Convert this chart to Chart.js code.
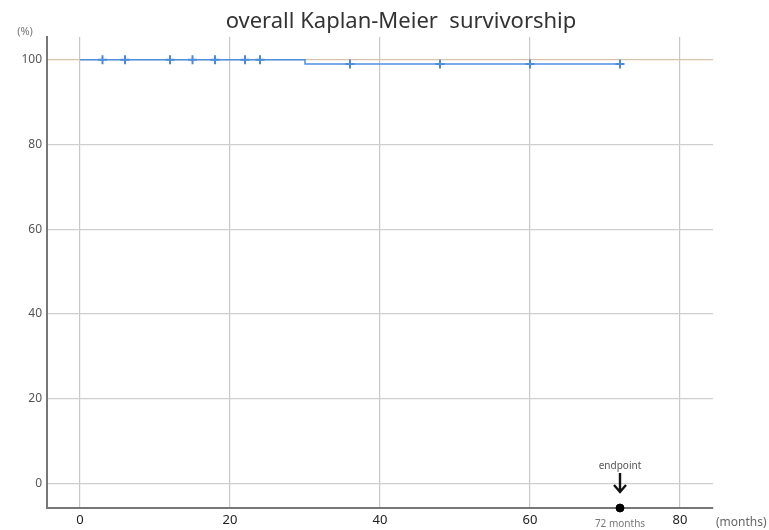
<!DOCTYPE html>
<html>
<head>
<meta charset="utf-8">
<script src="https://cdn.jsdelivr.net/npm/chart.js@4/dist/chart.umd.min.js"></script>
<style>
  html, body { margin: 0; padding: 0; background: #fff; }
  #wrap { width: 769px; height: 530px; }
</style>
</head>
<body>
<div id="wrap"><canvas id="km"></canvas></div>
<script>
// survival curve (months, %)
const curveMonths = [0, 30, 72];
const curveSurvival = [100, 99, 99];
// censored observations
const censorMonths = [3, 6, 12, 15, 18, 22, 24, 36, 48, 60, 72];
const censorSurvival = [100, 100, 100, 100, 100, 100, 100, 99, 99, 99, 99];
const xTicks = [0, 20, 40, 60, 80];
const yTicks = [0, 20, 40, 60, 80, 100];
const endpointMonth = 72;
const X_MIN = -4.4, X_MAX = 84.4, Y_MIN = -5.8, Y_MAX = 105.4;

const FONT = '"Noto Sans", "Open Sans", sans-serif';

const overlay = {
  id: 'overlay',
  afterDraw(chart) {
    const { ctx, scales: { x, y } } = chart;
    ctx.save();
    ctx.textAlign = 'center';
    ctx.textBaseline = 'alphabetic';
    ctx.fillStyle = '#333';
    ctx.font = '22px ' + FONT;
    ctx.fillText('overall Kaplan-Meier  survivorship', 401, 28);

    ctx.fillStyle = '#777';
    ctx.font = '11px ' + FONT;
    ctx.fillText('(%)', 25, 35);

    ctx.textAlign = 'left';
    ctx.font = '12px ' + FONT;
    ctx.fillStyle = '#666';
    ctx.fillText('(months)', 716, 526);

    const ex = x.getPixelForValue(endpointMonth);
    ctx.textAlign = 'center';
    ctx.font = '10px ' + FONT;
    ctx.fillStyle = '#777';
    ctx.fillText('72 months', ex, 527);
    ctx.fillStyle = '#555';
    ctx.fillText('endpoint', ex, 469);

    // arrow
    ctx.strokeStyle = '#111';
    ctx.lineWidth = 2.4;
    ctx.beginPath();
    ctx.moveTo(ex, 473);
    ctx.lineTo(ex, 492);
    ctx.moveTo(ex - 6, 485);
    ctx.lineTo(ex, 492);
    ctx.lineTo(ex + 6, 485);
    ctx.stroke();
    ctx.restore();
  }
};

new Chart(document.getElementById('km'), {
  type: 'scatter',
  data: {
    datasets: [
      {
        type: 'line',
        data: curveMonths.map((m, i) => ({ x: m, y: curveSurvival[i] })),
        borderColor: '#4f8fe0',
        borderWidth: 1.5,
        stepped: true,
        pointRadius: 0,
        fill: false,
      },
      {
        data: censorMonths.map((m, i) => ({ x: m, y: censorSurvival[i] })),
        pointStyle: 'cross',
        pointRadius: 4.5,
        borderColor: '#4a88db',
        borderWidth: 2,
      },
      {
        data: [{ x: endpointMonth, y: Y_MIN }],
        pointStyle: 'circle',
        pointRadius: 4,
        backgroundColor: '#000',
        borderColor: '#000',
        clip: false,
      },
    ],
  },
  plugins: [overlay],
  options: {
    responsive: true,
    maintainAspectRatio: false,
    animation: false,
    layout: { padding: { top: 37, right: 56, left: 0, bottom: 0 } },
    plugins: { legend: { display: false }, tooltip: { enabled: false } },
    scales: {
      x: {
        type: 'linear',
        min: X_MIN,
        max: X_MAX,
        afterBuildTicks: (s) => { s.ticks = xTicks.map(v => ({ value: v })); },
        afterFit: (s) => { s.height = 22; },
        grid: { color: '#c8c8c8', lineWidth: 1.2, drawTicks: false },
        border: { display: true, color: '#777', width: 2 },
        ticks: { color: '#222', font: { family: FONT, size: 13 }, padding: 4 },
      },
      y: {
        type: 'linear',
        min: Y_MIN,
        max: Y_MAX,
        afterBuildTicks: (s) => { s.ticks = yTicks.map(v => ({ value: v })); },
        afterFit: (s) => { s.width = 47; },
        grid: {
          color: (c) => (c.tick && c.tick.value === 100 ? '#d9c2aa' : '#cfcfcf'),
          lineWidth: 1.2,
          drawTicks: false,
        },
        border: { display: true, color: '#777', width: 2 },
        ticks: { color: '#555', font: { family: FONT, size: 12 }, padding: 5 },
      },
    },
  },
});
</script>
</body>
</html>
